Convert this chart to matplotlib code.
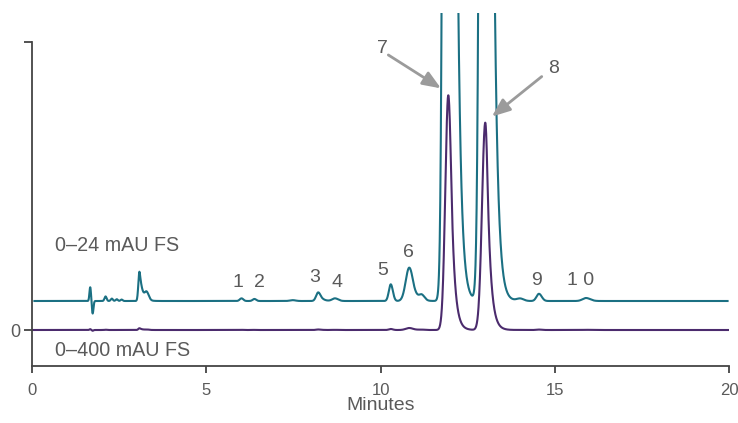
import numpy as np
import matplotlib.pyplot as plt

# peak table: retention time (min), height (mAU),
# left / right gaussian widths (min) and exponential tail constant (0 = no tail)
peak_times = [1.67, 1.74, 2.11, 2.29, 2.43, 2.57, 3.08, 3.29, 6.01, 6.38, 7.48,
              8.21, 8.69, 10.29, 10.82, 11.18, 11.94, 13.00, 14.00, 14.54, 15.89]
peak_heights = [1.15, -1.05, 0.38, 0.2, 0.15, 0.12, 2.44, 0.6, 0.22, 0.17, 0.07,
                0.72, 0.22, 1.39, 2.78, 0.42, 326.0, 288.0, 0.2, 0.6, 0.25]
peak_sigma_left = [0.022, 0.022, 0.03, 0.03, 0.03, 0.03, 0.03, 0.05, 0.05, 0.05, 0.08,
                   0.06, 0.08, 0.055, 0.1, 0.07, 0.085, 0.092, 0.1, 0.07, 0.1]
peak_sigma_right = [0.022, 0.022, 0.03, 0.03, 0.03, 0.03, 0.04, 0.06, 0.05, 0.05, 0.08,
                    0.07, 0.09, 0.06, 0.11, 0.08, 0.09, 0.08, 0.1, 0.08, 0.12]
peak_tail = [0, 0, 0, 0, 0, 0, 0.08, 0, 0, 0, 0,
             0.08, 0, 0, 0.1, 0, 0.095, 0.1, 0, 0, 0]

# traces: 0-24 mAU full scale (offset) and 0-400 mAU full scale
teal_range = (0.07, 19.95)
purple_range = (0.0, 20.0)
teal_fs = 24.0
purple_fs = 400.0
teal_offset = 10.07

peak_labels = ['1', '2', '3', '4', '5', '6', '9', '1 0']
label_x = [5.92, 6.51, 8.10, 8.74, 10.06, 10.81, 14.48, 15.73]
label_y = [16.4, 16.4, 18.2, 16.4, 20.8, 26.8, 17.1, 17.1]

arrow_labels = ['7', '8']
arrow_text_xy = [(10.06, 97.8), (14.95, 90.9)]
arrow_start_xy = [(10.22, 95.5), (14.62, 88.0)]
arrow_tip_xy = [(11.73, 83.9), (13.19, 74.1)]

x_ticks = [0, 5, 10, 15, 20]

TEAL = '#1b7083'
PURPLE = '#4b2b6d'
GREY_TEXT = '#5a5a5a'
AXIS = '#444444'


def peak_shape(t, t0, sl, sr, tau):
    d = t - t0
    y = np.where(d < 0, np.exp(-0.5 * (d / sl) ** 2), np.exp(-0.5 * (d / sr) ** 2))
    if tau > 0:
        dc = sr ** 2 / tau
        gc = np.exp(-0.5 * (dc / sr) ** 2)
        tail = gc * np.exp(-np.clip(d - dc, 0, None) / tau)
        y = np.where(d > dc, tail, y)
    return y


def signal(t):
    s = np.zeros_like(t)
    for t0, h, sl, sr, tau in zip(peak_times, peak_heights, peak_sigma_left,
                                   peak_sigma_right, peak_tail):
        s += h * peak_shape(t, t0, sl, sr, tau)
    return s


plt.rcParams['font.family'] = ['Liberation Sans', 'DejaVu Sans']

fig = plt.figure(figsize=(7.38, 4.23), dpi=100)
ax = fig.add_axes([32 / 738, 1 - 366 / 423, (729.3 - 32) / 738, (366 - 13) / 423])

t_teal = np.linspace(teal_range[0], teal_range[1], 5000)
t_purple = np.linspace(purple_range[0], purple_range[1], 5000)

ax.plot(t_teal, teal_offset + signal(t_teal) * 100 / teal_fs, color=TEAL, lw=1.5,
        solid_joinstyle='round')
ax.plot(t_purple, signal(t_purple) * 100 / purple_fs, color=PURPLE, lw=1.5,
        solid_joinstyle='round')

ax.set_xlim(0, 20)
ax.set_ylim(-12.5, 110.07)

for side in ['top', 'right']:
    ax.spines[side].set_visible(False)
for side in ['left', 'bottom']:
    ax.spines[side].set_color(AXIS)
    ax.spines[side].set_linewidth(1.3)
ax.spines['left'].set_bounds(-12.5, 100)

ax.set_xticks(x_ticks)
ax.set_xticklabels([str(v) for v in x_ticks])
ax.set_yticks([0, 100])
ax.set_yticklabels(['0', ''])
ax.tick_params(axis='x', direction='out', length=5, width=1.3, color=AXIS,
               labelcolor=GREY_TEXT, labelsize=12, pad=7.5)
ax.tick_params(axis='y', direction='out', length=5.5, width=1.3, color=AXIS,
               labelcolor=GREY_TEXT, labelsize=13, pad=3)
ax.set_xlabel('Minutes', color=GREY_TEXT, fontsize=14, labelpad=-1)

ax.text(0.66, 27.4, '0\u201324 mAU FS', color=GREY_TEXT, fontsize=14.2,
        ha='left', va='baseline')
ax.text(0.66, -9.0, '0\u2013400 mAU FS', color=GREY_TEXT, fontsize=14.2,
        ha='left', va='baseline')

for lab, x, y in zip(peak_labels, label_x, label_y):
    ax.text(x, y, lab, color=GREY_TEXT, fontsize=14, ha='center', va='center')

for lab, txy, sxy, pxy in zip(arrow_labels, arrow_text_xy, arrow_start_xy, arrow_tip_xy):
    ax.text(txy[0], txy[1], lab, color=GREY_TEXT, fontsize=14, ha='center', va='center')
    ax.annotate('', xy=pxy, xytext=sxy,
                arrowprops=dict(arrowstyle='-|>,head_length=0.55,head_width=0.22',
                                color='#9b9b9b', lw=2, mutation_scale=20,
                                shrinkA=0, shrinkB=0))

fig.savefig('out.png', dpi=100)
